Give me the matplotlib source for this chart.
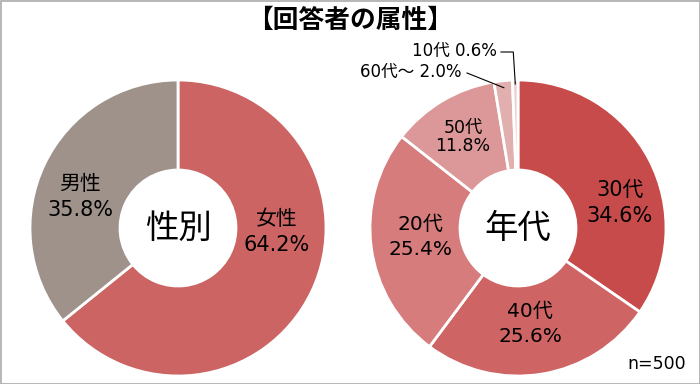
import numpy as np
from matplotlib import pyplot as plt
from matplotlib.patches import Rectangle

plt.rcParams['font.family'] = ['DejaVu Sans', 'Noto Sans CJK JP']

# データ
title = '【回答者の属性】'
gender_labels = ['女性', '男性']
gender_values = [64.2, 35.8]
age_labels = ['30代', '40代', '20代', '50代', '60代～', '10代']
age_values = [34.6, 25.6, 25.4, 11.8, 2.0, 0.6]
n_text = 'n=500'

gender_colors = ['#cd6464', '#9e928b']
age_colors = ['#c84b4b', '#cf6464', '#d67c7c', '#dc9898', '#e2afaf', '#edcfcf']

H = 384
def py(y):  # 画像座標(上原点) -> 描画座標
    return H - y

fig = plt.figure(figsize=(7, 3.84), dpi=100)
ax = fig.add_axes([0, 0, 1, 1])

R = 148
W = 90
left_c = (178, py(228))
right_c = (518, py(228))

wp = dict(width=W, edgecolor='white', linewidth=2)
ax.pie(gender_values, startangle=90, counterclock=False, center=left_c, radius=R,
       colors=gender_colors, wedgeprops=wp, frame=True)
ax.pie(age_values, startangle=90, counterclock=False, center=right_c, radius=R,
       colors=age_colors, wedgeprops=wp, frame=True)

ax.set_xlim(0, 700)
ax.set_ylim(0, H)
ax.set_aspect('equal')
ax.axis('off')

# ラベル(扇形の内側)
gender_pos = [(277, 232), (80, 197)]
for lab, v, (x, y) in zip(gender_labels, gender_values, gender_pos):
    ax.text(x, py(y), f'{lab}\n{v:.1f}%', ha='center', va='center',
            fontsize=15, linespacing=1.4)

age_pos = [(620, 203), (530, 324), (420, 237), (463, 137)]
age_fs = [15, 14.5, 14.5, 12.5]
for i, (x, y) in enumerate(age_pos):
    ls = 1.05 if i == 3 else 1.4
    ax.text(x, py(y), f'{age_labels[i]}\n{age_values[i]:.1f}%', ha='center', va='center',
            fontsize=age_fs[i], linespacing=ls)

# 小さい扇形は引き出し線で
cum = np.cumsum([0] + age_values)
def wedge_point(i, r):
    mid = 90 - (cum[i] + age_values[i] / 2) / 100 * 360
    a = np.deg2rad(mid)
    return right_c[0] + r * np.cos(a), right_c[1] + r * np.sin(a)

# 60代～
x1, y1 = wedge_point(4, 141)
ax.text(462, py(72), f'{age_labels[4]} {age_values[4]:.1f}%', ha='right', va='center', fontsize=12)
ax.plot([467, x1], [py(73), y1], color='black', lw=0.8)
# 10代
x2, y2 = wedge_point(5, 144)
ax.text(497, py(51), f'{age_labels[5]} {age_values[5]:.1f}%', ha='right', va='center', fontsize=12)
ax.plot([501, x2 - 2, x2], [py(52), py(52), y2], color='black', lw=0.8)

# 中央の文字
ax.text(left_c[0], left_c[1], '性別', ha='center', va='center', fontsize=24)
ax.text(right_c[0], right_c[1], '年代', ha='center', va='center', fontsize=24)

ax.text(350, py(21), title, ha='center', va='center', fontsize=18.5, fontweight='bold')
ax.text(686, py(364), n_text, ha='right', va='center', fontsize=12.5)

ax.add_patch(Rectangle((0.5, 0.5), 699, 383, fill=False, edgecolor='#aaaaaa', lw=1.2))

plt.savefig('out.png', dpi=100)
